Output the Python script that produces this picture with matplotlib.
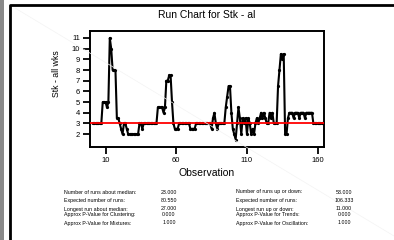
import matplotlib
matplotlib.use("Agg")
import matplotlib.pyplot as plt
from matplotlib.lines import Line2D
from matplotlib.patches import Rectangle

plt.rcParams['font.family'] = ['Liberation Sans', 'DejaVu Sans']

# values, observation 1..163
stk = [3, 3, 3, 3, 3, 3, 3,
       5, 5, 5, 4.5, 5,
       11, 10, 8, 8, 8,
       3.5, 3.5, 3, 2.5, 2, 3, 3, 2.5,
       2, 2, 2, 2, 2, 2, 2, 2,
       3, 3, 2.5, 3,
       3, 3, 3, 3, 3, 3, 3, 3, 3,
       4.5, 4.5, 4.5, 4.5, 4, 4.5,
       7, 7, 7.5, 7.5, 5, 3,
       2.5, 2.5, 2.5,
       3, 3, 3, 3, 3, 3, 3, 3,
       2.5, 2.5, 2.5, 2.5,
       3, 3, 3, 3, 3, 3, 3, 3, 3, 3, 3,
       2.5, 3.5, 4, 3, 2.5, 3, 3, 3, 3, 3,
       4.5, 5.5, 6.5, 6.5, 4, 2.5, 2, 1.5,
       3, 4.5, 3.5, 2, 3.5, 3, 3.5, 2, 3.5, 3, 2, 2.5, 2,
       3, 3.5, 3, 3.5, 4, 3.5, 4, 3.5, 3, 3, 4, 3.5, 4, 3, 3, 3,
       6.5, 8, 9.5, 9, 9.5, 2, 2, 3.5, 4,
       4, 4, 3.5, 4, 4, 4, 3.5, 4, 4, 4, 3.5, 4, 4, 4, 4, 4,
       3, 3, 3, 3, 3, 3, 3]
obs = list(range(1, len(stk) + 1))
median = 3.0

x_ticks = [10, 60, 110, 160]
y_ticks = [2, 3, 4, 5, 6, 7, 8, 9, 10, 11]

left_labels = ["Number of runs about median:", "Expected number of runs:",
               "Longest run about median:", "Approx P-Value for Clustering:",
               "Approx P-Value for Mixtures:"]
left_values = ["23.000", "80.550", "27.000", "0.000", "1.000"]
right_labels = ["Number of runs up or down:", "Expected number of runs:",
                "Longest run up or down:", "Approx P-Value for Trends:",
                "Approx P-Value for Oscillation:"]
right_values = ["53.000", "106.333", "11.000", "0.000", "1.000"]

W, H = 394, 240
fig = plt.figure(figsize=(W / 100, H / 100), dpi=100)
fig.patch.set_facecolor("white")

def fx(px):
    return px / W

def fy(py):
    return 1 - py / H

# window decorations: gray bar on the left, black frame, faint diagonal
fig.add_artist(Rectangle((0, 0), fx(4), 1, transform=fig.transFigure,
                         facecolor="#8a8a8a", edgecolor="none"))
fig.add_artist(Line2D([fx(15), fx(394)], [fy(8), fy(236)], transform=fig.transFigure,
                      color="#f3f3f3", lw=0.5))
fig.add_artist(Line2D([fx(10), fx(10), fx(394)], [fy(240), fy(5), fy(5)],
                      transform=fig.transFigure, color="black", lw=2.0))

ax = fig.add_axes([fx(90), fy(147), fx(324) - fx(90), fy(31) - fy(147)])
ax.axhline(median, color="#ff0000", lw=1.3, zorder=3)
ax.plot(obs, stk, color="black", lw=1.5, marker="o", markersize=1.3, zorder=2)

ax.set_xlim(-1, 164.5)
ax.set_ylim(0.8, 11.65)
ax.set_xticks(x_ticks)
ax.set_yticks(y_ticks)
ax.tick_params(axis="both", direction="out", length=5, width=1.3, labelsize=5.5, pad=2)
for s in ax.spines.values():
    s.set_linewidth(1.4)

fig.text(fx(207), fy(15), "Run Chart for Stk - al", ha="center", va="center", fontsize=7.5)
fig.text(fx(207), fy(173), "Observation", ha="center", va="center", fontsize=7.5)
fig.text(fx(57), fy(74), "Stk - all wks", ha="center", va="center", rotation=90, fontsize=6.3)

rows_y = [192, 200.7, 209, 214.7, 223]
for ry, lab, val in zip(rows_y, left_labels, left_values):
    fig.text(fx(64), fy(ry), lab, ha="left", va="center", fontsize=3.8)
    fig.text(fx(169), fy(ry), val, ha="center", va="center", fontsize=3.8)
for ry, lab, val in zip(rows_y, right_labels, right_values):
    fig.text(fx(236), fy(ry), lab, ha="left", va="center", fontsize=3.8)
    fig.text(fx(344), fy(ry), val, ha="center", va="center", fontsize=3.8)

fig.savefig("out.png", dpi=100)
